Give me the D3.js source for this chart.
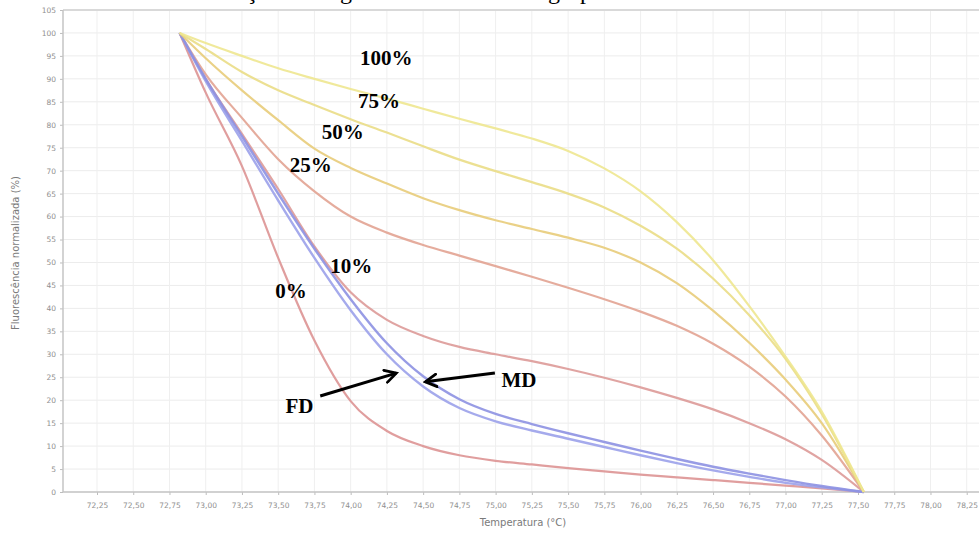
<!DOCTYPE html>
<html>
<head>
<meta charset="utf-8">
<script src="https://cdn.jsdelivr.net/npm/d3@7"></script>
<style>
  html, body { margin: 0; padding: 0; background: #fff; overflow: hidden; }
  svg { display: block; }
</style>
</head>
<body>
<svg id="chart" width="979" height="533"></svg>
<script>
// ---------------- DATA ----------------
const temps = [72.82, 73.0, 73.25, 73.5, 73.75, 74.0, 74.25, 74.5, 74.75, 75.0,
               75.25, 75.5, 75.75, 76.0, 76.25, 76.5, 76.75, 77.0, 77.25, 77.54];

const s100 = [100, 97.8, 95.0, 92.3, 90.0, 87.8, 85.7, 83.5, 81.3, 79.2,
              77.0, 74.3, 70.5, 65.5, 58.8, 50.5, 40.5, 29.5, 17.5, 0];
const s75  = [100, 96.5, 91.5, 87.5, 84.3, 81.2, 78.3, 75.3, 72.4, 69.9,
              67.5, 65.0, 62.0, 58.0, 53.0, 46.5, 38.5, 29.0, 17.0, 0];
const s50  = [100, 94.5, 87.5, 81.0, 74.8, 70.6, 67.2, 64.0, 61.4, 59.2,
              57.3, 55.4, 53.2, 50.0, 45.5, 39.5, 32.5, 24.5, 15.0, 0];
const s25  = [100, 91.0, 81.5, 72.5, 65.5, 60.0, 56.5, 53.8, 51.5, 49.2,
              46.9, 44.5, 42.0, 39.3, 36.2, 32.3, 27.3, 20.8, 12.3, 0];
const s10  = [100, 90.0, 78.0, 66.0, 53.5, 43.5, 37.5, 34.0, 31.6, 30.0,
              28.5, 26.8, 24.9, 22.8, 20.5, 18.0, 15.0, 11.5, 7.0, 0];
const sFD  = [100, 89.5, 76.5, 63.5, 51.0, 39.6, 30.0, 23.0, 18.3, 15.4,
              13.4, 11.6, 9.8, 8.0, 6.3, 4.7, 3.3, 2.0, 1.0, 0];
const sMD  = [100, 90.0, 77.5, 65.0, 53.0, 42.0, 32.4, 25.2, 20.2, 17.0,
              14.8, 12.8, 10.9, 9.0, 7.2, 5.5, 4.0, 2.6, 1.3, 0];
const s0   = [100, 87.0, 71.0, 51.0, 33.0, 19.8, 13.3, 10.0, 8.0, 6.8,
              6.0, 5.2, 4.5, 3.8, 3.2, 2.6, 2.0, 1.4, 0.8, 0];

const seriesNames = ["0%", "10%", "25%", "FD", "MD", "50%", "75%", "100%"];
const seriesValues = [s0, s10, s25, sFD, sMD, s50, s75, s100];
const seriesColors = ["#dd9494", "#dd9a98", "#e2a392", "#9ba1ea", "#8d91e2", "#e8cc7a", "#eadd86", "#eee790"];

const xTicks = ["72,25","72,50","72,75","73,00","73,25","73,50","73,75","74,00","74,25",
                "74,50","74,75","75,00","75,25","75,50","75,75","76,00","76,25","76,50",
                "76,75","77,00","77,25","77,50","77,75","78,00","78,25"];
const yTicks = [0,5,10,15,20,25,30,35,40,45,50,55,60,65,70,75,80,85,90,95,100,105];

// labels: text, temperature, value
const labelText = ["100%", "75%", "50%", "25%", "10%", "0%", "FD", "MD"];
const labelT    = [74.064, 74.05, 73.80, 73.58, 73.86, 73.48, 73.55, 75.04];
const labelV    = [93.0, 83.66, 76.9, 69.7, 47.7, 42.3, 17.2, 22.9];

// arrows: from (t,v) to tip (t,v)
const arrowFrom = [[73.79, 20.9], [74.995, 25.9]];
const arrowTo   = [[74.315, 25.9], [74.515, 24.0]];

const titleParts = ["Diferenciação", "genética interna do", "grupo"];

// ---------------- CHART ----------------
const pLeft = 63, pRight = 979, pTop = 10, pBottom = 492;
const svg = d3.select("#chart");
const sans = "DejaVu Sans, Verdana, sans-serif";
const serif = "Liberation Serif, Times New Roman, serif";

const xVal = d => parseFloat(d.replace(",", "."));
const x = d3.scaleLinear().domain([72.25, 77.5]).range([97, 858]);
const y = d3.scaleLinear().domain([0, 105]).range([pBottom, pTop]);

// partial title, clipped at the top edge (only descenders visible)
const title = svg.append("text")
  .attr("y", -1.5)
  .attr("font-family", serif)
  .attr("font-size", 24)
  .attr("fill", "#000");
title.append("tspan").attr("x", 145).text(titleParts[0]);
title.append("tspan").attr("x", 340).text(titleParts[1]);
title.append("tspan").attr("x", 548).text(titleParts[2]);

// grid
const grid = svg.append("g");
grid.selectAll("line.h").data(yTicks).join("line")
  .attr("x1", pLeft).attr("x2", pRight)
  .attr("y1", d => y(d)).attr("y2", d => y(d))
  .attr("stroke", "#ececec").attr("stroke-width", 1);
grid.selectAll("line.v").data(xTicks).join("line")
  .attr("x1", d => x(xVal(d))).attr("x2", d => x(xVal(d)))
  .attr("y1", pTop).attr("y2", pBottom)
  .attr("stroke", "#efefef").attr("stroke-width", 1);

// top border
svg.append("line").attr("x1", pLeft).attr("x2", pRight).attr("y1", pTop).attr("y2", pTop)
  .attr("stroke", "#d9d9d9").attr("stroke-width", 2);

// axes
const yAxis = d3.axisLeft(y).tickValues(yTicks).tickSize(3).tickPadding(4).tickFormat(d => d);
const gy = svg.append("g").attr("transform", `translate(${pLeft},0)`).call(yAxis);
const xAxis = d3.axisBottom(x).tickValues(xTicks.map(xVal)).tickSize(3).tickPadding(8)
  .tickFormat((d, i) => xTicks[i]);
const gx = svg.append("g").attr("transform", `translate(0,${pBottom})`).call(xAxis);
[gx, gy].forEach(g => {
  g.select(".domain").remove();
  g.selectAll(".tick line").attr("stroke", "#bdbdbd");
  g.selectAll(".tick text").attr("fill", "#8f8f8f")
    .attr("font-family", sans).attr("font-size", 7.5);
});
svg.append("line").attr("x1", pLeft).attr("x2", pLeft).attr("y1", pTop).attr("y2", pBottom)
  .attr("stroke", "#c4c4c4").attr("stroke-width", 1.5);
svg.append("line").attr("x1", pLeft).attr("x2", pRight).attr("y1", pBottom).attr("y2", pBottom)
  .attr("stroke", "#c4c4c4").attr("stroke-width", 1.5);

// axis titles
svg.append("text")
  .attr("transform", `translate(19,253) rotate(-90)`)
  .attr("text-anchor", "middle")
  .attr("font-family", sans).attr("font-size", 10)
  .attr("fill", "#7a7a7a").text("Fluorescência normalizada (%)");
svg.append("text")
  .attr("x", 523).attr("y", 526)
  .attr("text-anchor", "middle")
  .attr("font-family", sans).attr("font-size", 10)
  .attr("fill", "#7a7a7a").text("Temperatura (°C)");

// lines
const line = d3.line().x(d => x(d[0])).y(d => y(d[1])).curve(d3.curveMonotoneX);
svg.append("g").selectAll("path").data(seriesValues).join("path")
  .attr("d", vals => line(temps.map((t, i) => [t, vals[i]])))
  .attr("fill", "none")
  .attr("stroke", (d, i) => seriesColors[i])
  .attr("stroke-width", (d, i) => (seriesNames[i] === "FD" || seriesNames[i] === "MD") ? 2.4 : 2.2)
  .attr("stroke-opacity", 0.9)
  .attr("stroke-linejoin", "round");

// labels
svg.append("g").selectAll("text").data(labelText).join("text")
  .attr("x", (d, i) => x(labelT[i]))
  .attr("y", (d, i) => y(labelV[i]))
  .attr("font-family", serif)
  .attr("font-weight", "bold").attr("font-size", 21)
  .attr("fill", "#000").text(d => d);

// arrows
const defs = svg.append("defs");
defs.append("marker").attr("id", "arr")
  .attr("viewBox", "0 0 12 12").attr("refX", 10).attr("refY", 6)
  .attr("markerWidth", 5).attr("markerHeight", 5).attr("markerUnits", "strokeWidth")
  .attr("orient", "auto")
  .append("path").attr("d", "M1,1 L10,6 L1,11")
  .attr("fill", "none").attr("stroke", "#000").attr("stroke-width", 2.2)
  .attr("stroke-linecap", "round").attr("stroke-linejoin", "miter");
svg.append("g").selectAll("line").data(arrowFrom).join("line")
  .attr("x1", d => x(d[0])).attr("y1", d => y(d[1]))
  .attr("x2", (d, i) => x(arrowTo[i][0])).attr("y2", (d, i) => y(arrowTo[i][1]))
  .attr("stroke", "#000").attr("stroke-width", 3)
  .attr("marker-end", "url(#arr)");
</script>
</body>
</html>
